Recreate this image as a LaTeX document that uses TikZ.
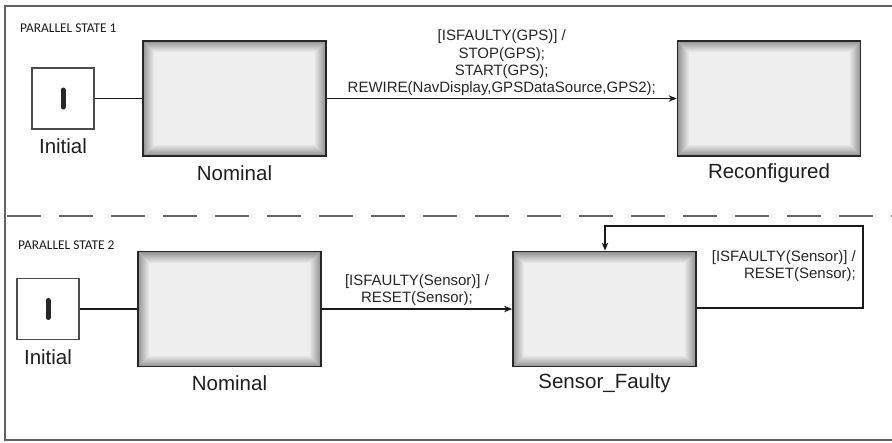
\documentclass[tikz,border=0pt]{standalone}
\usepackage{fontspec}
\setmainfont{Liberation Sans}
\newfontfamily\regionfont{Carlito}
\usetikzlibrary{arrows.meta}

\tikzset{
  statebox/.style={
    draw=black!85, line width=1.8pt, minimum width=183pt, minimum height=115pt,
    inner sep=0pt,
    path picture={
      \foreach \k in {0,...,11}{
        \pgfmathsetmacro\dk{42-\k*3.2}
        \pgfmathsetmacro\ik{\k*1.0}
        \fill[black!\dk]
          ([shift={(\ik pt,\ik pt)}]path picture bounding box.south west)
          rectangle
          ([shift={(-\ik pt,-\ik pt)}]path picture bounding box.north east);
      }
    }
  },
  initbox/.style={
    draw=black!70, line width=1.3pt, fill=white,
    minimum width=62pt, minimum height=61pt, inner sep=0pt
  },
  bar/.style={line width=5pt, black!85, line cap=round},
  namelbl/.style={font=\fontsize{20.5}{23}\selectfont, text=black!88, inner sep=0pt},
  translbl/.style={font=\fontsize{15}{17.3}\selectfont, text=black!85, inner sep=0pt},
  regionlbl/.style={font=\regionfont\fontsize{13.4}{15}\selectfont, text=black!90, inner sep=0pt, anchor=west},
  trans/.style={line width=1.1pt, black!90, -{Stealth[length=8pt,width=6.5pt]}},
  plain/.style={line width=1.1pt, black!90},
  frame/.style={line width=2pt, black!62},
  divider/.style={line width=2pt, black!60, dash pattern=on 34pt off 18pt}
}

\begin{document}
\begin{tikzpicture}[x=1pt, y=-1pt]
  \useasboundingbox (0,0) rectangle (892,442);

  % outer container of the two parallel regions
  \draw[frame] (900,6) -- (5,6) -- (5,440) -- (900,440);
  % region separator
  \draw[divider] (7,216) -- (900,216);

  % ---------- parallel state 1 ----------
  \node[regionlbl] (ps1) at (20,28) {PARALLEL STATE 1};

  \node[initbox] (ini1) at (63,98.5) {};
  \draw[bar] ([yshift=-8.5pt]ini1.center) -- ([yshift=8.5pt]ini1.center);
  \node[namelbl] (ini1l) at (63,146) {Initial};

  \node[statebox] (nom1) at (234.5,98.5) {};
  \node[namelbl] (nom1l) at (234.5,173) {Nominal};

  \node[statebox] (rec) at (769,98.5) {};
  \node[namelbl] (recl) at (769,173) {Reconfigured};

  \draw[plain] (ini1.east) -- (nom1.west);
  \draw[trans] (nom1.east) -- (rec.west)
    node[translbl, midway, above=2pt, align=center] (t1)
    {[ISFAULTY(GPS)] /\\STOP(GPS);\\START(GPS);\\REWIRE(NavDisplay,GPSDataSource,GPS2);};

  % ---------- parallel state 2 ----------
  \node[regionlbl] (ps2) at (18,245) {PARALLEL STATE 2};

  \node[initbox] (ini2) at (48,309) {};
  \draw[bar] ([yshift=-8.5pt]ini2.center) -- ([yshift=8.5pt]ini2.center);
  \node[namelbl] (ini2l) at (48,357) {Initial};

  \node[statebox] (nom2) at (229.5,309) {};
  \node[namelbl] (nom2l) at (229.5,383) {Nominal};

  \node[statebox] (sf) at (604.5,309) {};
  \node[namelbl] (sfl) at (604.5,383) {Sensor\_Faulty};

  \draw[plain] (ini2.east) -- (nom2.west);
  \draw[trans] (nom2.east) -- (sf.west)
    node[translbl, midway, above=3pt, align=center] (t2)
    {[ISFAULTY(Sensor)] /\\RESET(Sensor);};

  % self transition on Sensor_Faulty
  \coordinate (loopA) at (863,308);
  \coordinate (loopB) at (863,226);
  \coordinate (loopC) at (605,226);
  \draw[trans] (sf.east |- loopA) -- (loopA) -- (loopB) -- (loopC) -- (sf.north -| loopC);
  \node[translbl, align=right, anchor=north east] (t3) at (856,250)
    {[ISFAULTY(Sensor)] /\\RESET(Sensor);};
\end{tikzpicture}
\end{document}
